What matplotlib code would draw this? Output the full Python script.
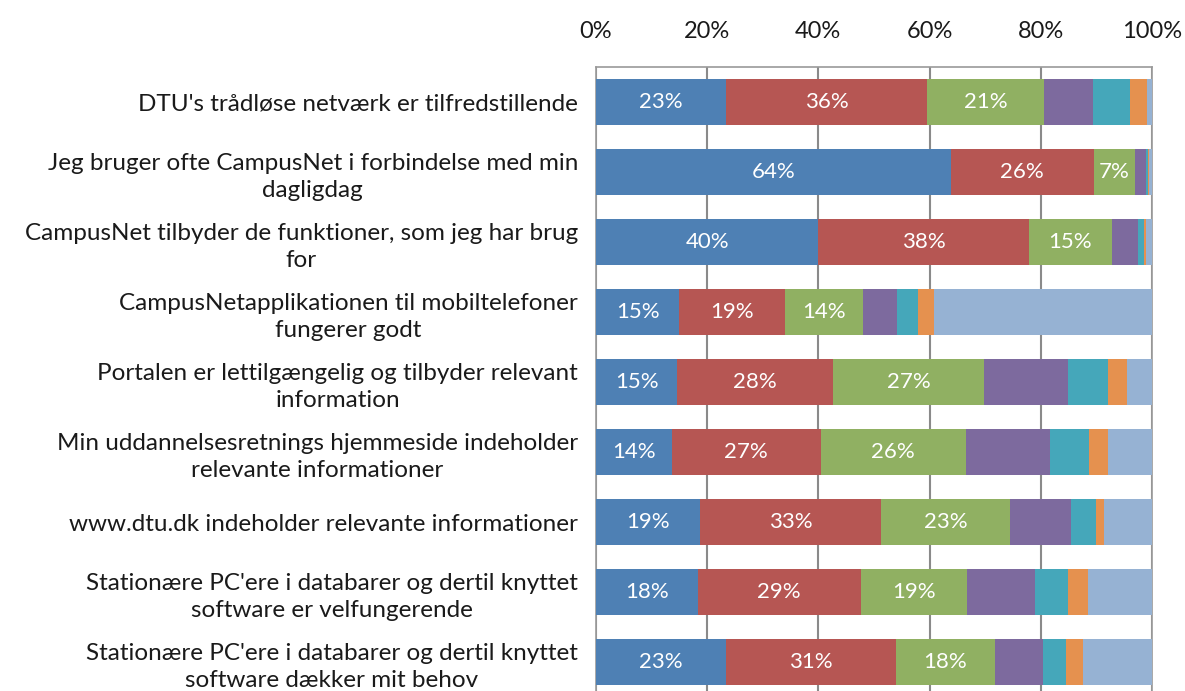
import matplotlib.pyplot as plt
import numpy as np

plt.rcParams['font.family'] = ['Lato', 'DejaVu Sans']

questions = [
    "DTU's trådløse netværk er tilfredstillende",
    "Jeg bruger ofte CampusNet i forbindelse med min\ndagligdag",
    "CampusNet tilbyder de funktioner, som jeg har brug\nfor",
    "CampusNetapplikationen til mobiltelefoner\nfungerer godt",
    "Portalen er lettilgængelig og tilbyder relevant\ninformation",
    "Min uddannelsesretnings hjemmeside indeholder\nrelevante informationer",
    "www.dtu.dk indeholder relevante informationer",
    "Stationære PC'ere i databarer og dertil knyttet\nsoftware er velfungerende",
    "Stationære PC'ere i databarer og dertil knyttet\nsoftware dækker mit behov",
]

# percentages per answer category (7 categories), one value per question
cat1 = [23.3, 63.8, 40.0, 15.0, 14.6, 13.6, 18.7, 18.3, 23.3]
cat2 = [36.3, 25.8, 37.9, 19.0, 28.1, 26.8, 32.6, 29.3, 30.7]
cat3 = [21.0, 7.3, 14.9, 14.1, 27.1, 26.1, 23.1, 19.1, 17.7]
cat4 = [8.9, 2.1, 4.7, 6.0, 15.1, 15.1, 11.1, 12.3, 8.7]
cat5 = [6.5, 0.3, 1.1, 3.9, 7.2, 7.1, 4.4, 5.9, 4.2]
cat6 = [3.1, 0.2, 0.4, 2.8, 3.5, 3.5, 1.5, 3.7, 3.1]
cat7 = [0.9, 0.5, 1.0, 39.2, 4.4, 7.8, 8.6, 11.4, 12.3]

series = [cat1, cat2, cat3, cat4, cat5, cat6, cat7]
colors = ['#4E80B4', '#B65653', '#90B062', '#7D6A9E', '#45A7BA', '#E5914F', '#96B2D3']
labeled = 3  # only the first three categories carry data labels

fig = plt.figure(figsize=(11.85, 6.91), dpi=100)
ax = fig.add_axes([0.503, -0.0087, 0.469, 0.9117])

y = np.arange(len(questions))
left = np.zeros(len(questions))
for i, (vals, col) in enumerate(zip(series, colors)):
    vals = np.array(vals)
    ax.barh(y, vals, left=left, height=0.66, color=col, zorder=3)
    if i < labeled:
        for yi, l, v in zip(y, left, vals):
            ax.text(l + v / 2, yi, f"{round(v)}%", ha='center', va='center',
                    color='white', fontsize=16, zorder=4)
    left += vals

ax.set_xlim(0, 100)
ax.set_ylim(len(questions) - 0.5, -0.5)
ax.set_xticks(np.arange(0, 101, 20))
ax.set_xticklabels([f"{t}%" for t in range(0, 101, 20)])
ax.xaxis.tick_top()
ax.tick_params(axis='x', length=0, pad=18, labelsize=17, colors='#1a1a1a')
ax.tick_params(axis='y', length=0, pad=13, labelsize=17.5, colors='#1a1a1a')
ax.set_yticks(y)
ax.set_yticklabels(questions)
for t in ax.get_yticklabels():
    t.set_multialignment('center')
    t.set_linespacing(1.35)

ax.grid(axis='x', color='#8a8a8a', linewidth=1.5, zorder=0)
for s in ax.spines.values():
    s.set_color('#9a9a9a')
    s.set_linewidth(1.2)

fig.savefig('out.png', dpi=100)
